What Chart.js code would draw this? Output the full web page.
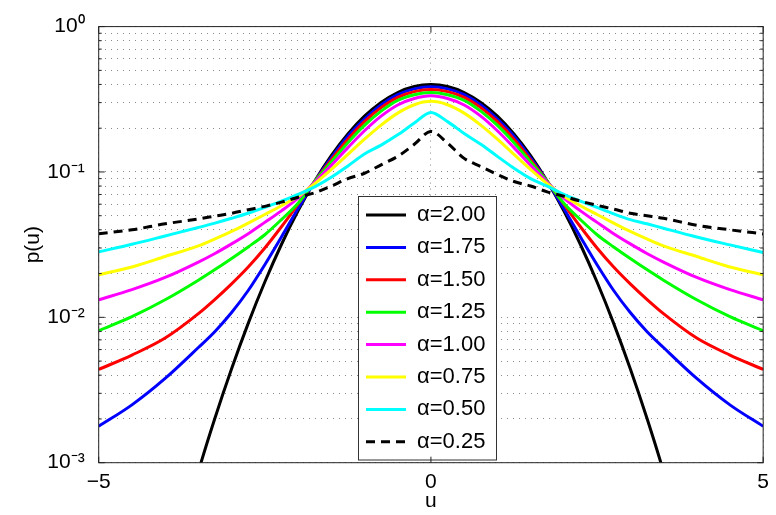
<!DOCTYPE html>
<html>
<head>
<meta charset="utf-8">
<script src="https://cdn.jsdelivr.net/npm/chart.js@4.4.1/dist/chart.umd.min.js"></script>
<style>
  html, body { margin: 0; padding: 0; background: #fff; }
  #wrap { width: 776px; height: 515px; }
</style>
</head>
<body>
<div id="wrap"><canvas id="myChart" width="776" height="515"></canvas></div>
<script>
// u grid and p(u)
const uValues = [-5, -4.5, -4, -3.5, -3.25, -3, -2.75, -2.5, -2.25, -2, -1.75, -1.5, -1.25, -1, -0.75, -0.5, -0.25, 0,
                 0.25, 0.5, 0.75, 1, 1.25, 1.5, 1.75, 2, 2.25, 2.5, 2.75, 3, 3.25, 3.5, 4, 4.5, 5];

const pA200 = [1.5e-6, 1.6e-5, 1.34e-4, 8.7e-4, 0.00203, 0.00443, 0.00909, 0.0175, 0.0317, 0.054, 0.0863, 0.1295, 0.1826, 0.242, 0.301, 0.352, 0.387, 0.399,
               0.387, 0.352, 0.301, 0.242, 0.1826, 0.1295, 0.0863, 0.054, 0.0317, 0.0175, 0.00909, 0.00443, 0.00203, 8.7e-4, 1.34e-4, 1.6e-5, 1.5e-6];
const pA175 = [0.00178, 0.0025, 0.0038, 0.0062, 0.0080, 0.0108, 0.0153, 0.023, 0.0357, 0.056, 0.086, 0.125, 0.176, 0.231, 0.289, 0.340, 0.373, 0.385,
               0.373, 0.340, 0.289, 0.231, 0.176, 0.125, 0.086, 0.056, 0.0357, 0.023, 0.0153, 0.0108, 0.0080, 0.0062, 0.0038, 0.0025, 0.00178];
const pA150 = [0.00438, 0.0055, 0.0072, 0.0106, 0.0133, 0.0170, 0.0222, 0.030, 0.0420, 0.060, 0.086, 0.121, 0.168, 0.222, 0.277, 0.326, 0.357, 0.369,
               0.357, 0.326, 0.277, 0.222, 0.168, 0.121, 0.086, 0.060, 0.0420, 0.030, 0.0222, 0.0170, 0.0133, 0.0106, 0.0072, 0.0055, 0.00438];
const pA125 = [0.0081, 0.0101, 0.0132, 0.0180, 0.0213, 0.0254, 0.0305, 0.037, 0.047, 0.061, 0.086, 0.117, 0.159, 0.209, 0.262, 0.311, 0.340, 0.352,
               0.340, 0.311, 0.262, 0.209, 0.159, 0.117, 0.086, 0.061, 0.047, 0.037, 0.0305, 0.0254, 0.0213, 0.0180, 0.0132, 0.0101, 0.0081];
const pA100 = [0.0132, 0.0155, 0.0188, 0.0240, 0.0275, 0.032, 0.0376, 0.045, 0.054, 0.066, 0.085, 0.111, 0.147, 0.192, 0.242, 0.289, 0.320, 0.334,
               0.320, 0.289, 0.242, 0.192, 0.147, 0.111, 0.085, 0.066, 0.054, 0.045, 0.0376, 0.032, 0.0275, 0.0240, 0.0188, 0.0155, 0.0132];
const pA075 = [0.0196, 0.0222, 0.0262, 0.031, 0.0346, 0.039, 0.0445, 0.051, 0.0586, 0.068, 0.083, 0.104, 0.132, 0.168, 0.210, 0.254, 0.290, 0.306,
               0.290, 0.254, 0.210, 0.168, 0.132, 0.104, 0.083, 0.068, 0.0586, 0.051, 0.0445, 0.039, 0.0346, 0.031, 0.0262, 0.0222, 0.0196];
const pA050 = [0.0282, 0.0318, 0.0363, 0.0415, 0.0445, 0.048, 0.052, 0.057, 0.063, 0.070, 0.079, 0.092, 0.110, 0.133, 0.153, 0.180, 0.217, 0.257,
               0.222, 0.184, 0.155, 0.128, 0.106, 0.090, 0.080, 0.070, 0.063, 0.057, 0.0515, 0.047, 0.044, 0.041, 0.0357, 0.0315, 0.0279];
const pA025 = [0.0376, 0.040, 0.044, 0.0475, 0.0497, 0.052, 0.055, 0.058, 0.062, 0.067, 0.072, 0.080, 0.090, 0.098, 0.112, 0.128, 0.155, 0.190,
               0.158, 0.124, 0.109, 0.096, 0.086, 0.080, 0.073, 0.068, 0.063, 0.059, 0.0555, 0.052, 0.050, 0.048, 0.043, 0.040, 0.0375];

const seriesLabels = ['α=2.00', 'α=1.75', 'α=1.50', 'α=1.25', 'α=1.00', 'α=0.75', 'α=0.50', 'α=0.25'];
const seriesValues = [pA200, pA175, pA150, pA125, pA100, pA075, pA050, pA025];
const seriesColors = ['#000000', '#0000ff', '#ff0000', '#00ff00', '#ff00ff', '#ffff00', '#00ffff', '#000000'];

const xTickValues = [-5, 0, 5];
const xTickLabels = ['−5', '0', '5'];
const yDecades = [0.001, 0.01, 0.1, 1];
const yTickLabels = ['10⁻³', '10⁻²', '10⁻¹', '10⁰'];
const yMantissas = [1, 2, 3, 4, 5, 6, 7, 8, 9];

const FONT = "'Liberation Sans', Arial, Helvetica, sans-serif";
const LINE_W = 3;

const datasets = seriesValues.map((vals, i) => ({
    label: seriesLabels[i],
    data: uValues.map((u, k) => ({x: u, y: vals[k]})),
    borderColor: seriesColors[i],
    backgroundColor: seriesColors[i],
    borderWidth: LINE_W,
    borderDash: i === 7 ? [9, 6] : [],
    pointRadius: 0,
    fill: false,
    cubicInterpolationMode: 'monotone',
    order: seriesValues.length - i
}));

// white legend box, axes frame and inward tick marks (matlab look)
const framePlugin = {
    id: 'frame',
    afterLayout(chart) {
        const lg = chart.legend;
        lg.left = 355.6; lg.top = 193.6;
        lg.right = 505; lg.bottom = 505;
        lg.width = lg.right - lg.left; lg.height = lg.bottom - lg.top;
    },
    afterDatasetsDraw(chart) {
        const ctx = chart.ctx;
        const a = chart.chartArea;
        const xs = chart.scales.x, ys = chart.scales.y;

        ctx.save();
        // legend box
        ctx.fillStyle = '#fff';
        ctx.fillRect(358.5, 196.5, 138, 263.5);
        ctx.strokeStyle = '#333';
        ctx.lineWidth = 1;
        ctx.strokeRect(358.5, 196.5, 138, 263.5);
        ctx.restore();
        chart.legend.draw();

        ctx.save();
        ctx.strokeStyle = '#222';
        ctx.lineWidth = 1;
        ctx.beginPath();
        ys.ticks.forEach(t => {
            const y = ys.getPixelForValue(t.value);
            const len = yDecades.includes(t.value) ? 6 : 3;
            ctx.moveTo(a.left, y); ctx.lineTo(a.left + len, y);
            ctx.moveTo(a.right, y); ctx.lineTo(a.right - len, y);
        });
        xTickValues.forEach(v => {
            const x = xs.getPixelForValue(v);
            ctx.moveTo(x, a.bottom); ctx.lineTo(x, a.bottom - 6);
            ctx.moveTo(x, a.top); ctx.lineTo(x, a.top + 6);
        });
        ctx.stroke();
        ctx.strokeRect(a.left, a.top, a.right - a.left, a.bottom - a.top);
        ctx.restore();
    }
};

const myChart = document.getElementById('myChart').getContext('2d');

const statsChart = new Chart(myChart, {
    type: 'line',
    data: { datasets: datasets },
    options: {
        responsive: false,
        animation: false,
        devicePixelRatio: 1,
        layout: { padding: { left: 16.4, right: 12, top: 24.3, bottom: 0 } },
        plugins: {
            tooltip: { enabled: false },
            legend: {
                position: 'chartArea',
                align: 'start',
                reverse: true,
                labels: {
                    usePointStyle: true,
                    pointStyle: 'line',
                    pointStyleWidth: 40,
                    padding: 10.4,
                    color: '#000',
                    font: { family: FONT, size: 22 },
                    // point style drops the dash, so take it from the dataset
                    generateLabels: (chart) => Chart.defaults.plugins.legend.labels.generateLabels(chart).map(item => {
                        const ds = chart.data.datasets[item.datasetIndex];
                        item.lineDash = ds.borderDash;
                        item.lineWidth = ds.borderWidth;
                        item.strokeStyle = ds.borderColor;
                        return item;
                    })
                }
            }
        },
        scales: {
            x: {
                type: 'linear',
                min: -5,
                max: 5,
                afterBuildTicks: (axis) => { axis.ticks = xTickValues.map(v => ({value: v})); },
                afterFit: (axis) => { axis.height = 52.3; },
                ticks: {
                    color: '#000',
                    padding: 7,
                    font: { family: FONT, size: 21 },
                    callback: (v) => xTickLabels[xTickValues.indexOf(v)]
                },
                grid: { color: '#8a8a8a', lineWidth: 1, drawTicks: false },
                border: { display: false, dash: [1, 5] },
                title: { display: true, text: 'u', color: '#000', font: { family: FONT, size: 21 }, padding: { top: 0, bottom: 1 } }
            },
            y: {
                type: 'logarithmic',
                min: 0.001,
                max: 1,
                afterBuildTicks: (axis) => {
                    const t = [];
                    yDecades.slice(0, 3).forEach(d => yMantissas.forEach(m => t.push({value: +(d * m).toPrecision(3)})));
                    t.push({value: 1});
                    axis.ticks = t;
                },
                afterFit: (axis) => { axis.width = 82.3; },
                ticks: {
                    autoSkip: false,
                    color: '#000',
                    padding: 14,
                    font: { family: FONT, size: 21 },
                    callback: (v) => {
                        const k = yDecades.indexOf(v);
                        return k >= 0 ? yTickLabels[k] : '';
                    }
                },
                grid: { color: '#8a8a8a', lineWidth: 1, drawTicks: false },
                border: { display: false, dash: [1, 5] },
                title: { display: true, text: 'p(u)', color: '#000', font: { family: FONT, size: 21 }, padding: { top: 4, bottom: 4 } }
            }
        }
    },
    plugins: [framePlugin]
});
</script>
</body>
</html>
